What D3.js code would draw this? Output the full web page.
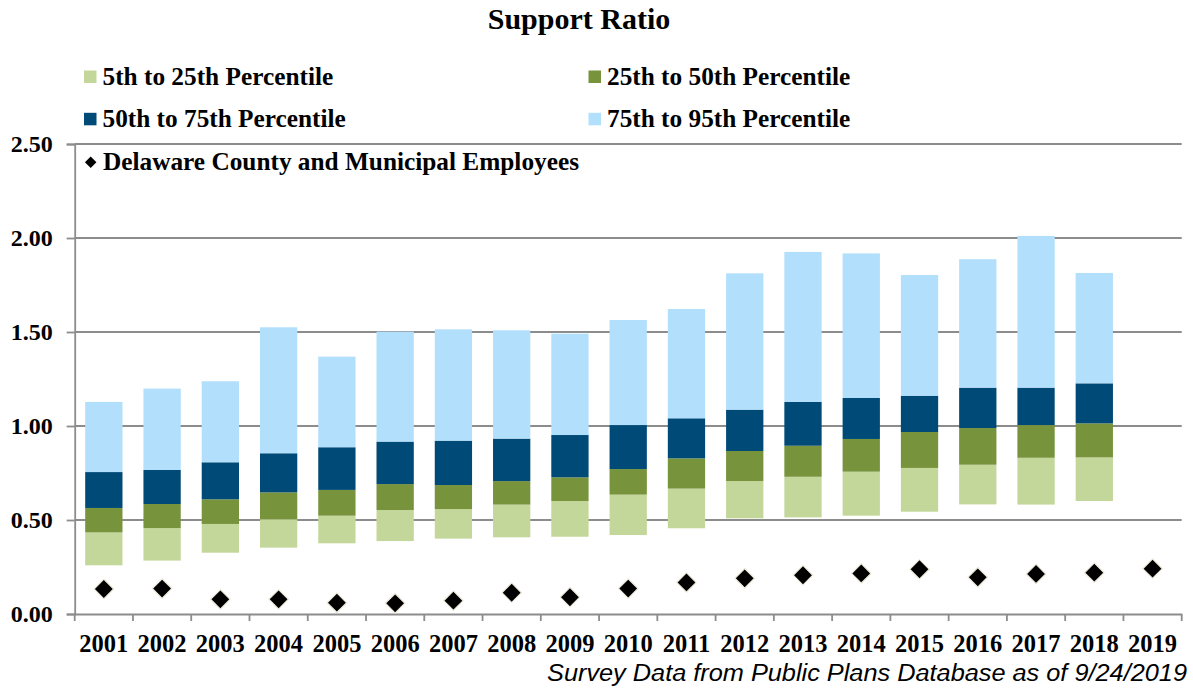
<!DOCTYPE html>
<html>
<head>
<meta charset="utf-8">
<script src="https://cdn.jsdelivr.net/npm/d3@7/dist/d3.min.js"></script>
<style>
  html, body { margin: 0; padding: 0; background: #fff; }
  svg { display: block; }
</style>
</head>
<body>
<svg id="chart" width="1193" height="692"></svg>
<script>
// ---- Data ----
const years = ["2001","2002","2003","2004","2005","2006","2007","2008","2009","2010",
               "2011","2012","2013","2014","2015","2016","2017","2018","2019"];
// percentile boundaries (null = no data)
const p5  = [0.259,0.284,0.326,0.353,0.376,0.388,0.401,0.408,0.411,0.420,0.456,0.509,0.514,0.523,0.544,0.583,0.582,0.601,null];
const p25 = [0.434,0.457,0.479,0.504,0.523,0.553,0.558,0.582,0.601,0.635,0.667,0.707,0.730,0.757,0.777,0.794,0.831,0.833,null];
const p50 = [0.564,0.585,0.610,0.647,0.660,0.691,0.686,0.707,0.727,0.771,0.828,0.867,0.895,0.931,0.968,0.989,1.005,1.014,null];
const p75 = [0.755,0.766,0.807,0.855,0.887,0.917,0.922,0.933,0.952,1.005,1.041,1.087,1.128,1.149,1.161,1.204,1.204,1.227,null];
const p95 = [1.128,1.199,1.238,1.525,1.369,1.502,1.514,1.509,1.491,1.564,1.622,1.812,1.926,1.918,1.803,1.887,2.011,1.814,null];
const delaware = [0.133,0.135,0.078,0.078,0.060,0.057,0.071,0.113,0.089,0.135,0.168,0.190,0.206,0.216,0.238,0.195,0.213,0.220,0.241];
const yTicks = [0, 0.5, 1.0, 1.5, 2.0, 2.5];
const seriesNames = ["5th to 25th Percentile","25th to 50th Percentile","50th to 75th Percentile","75th to 95th Percentile"];
const seriesColors = ["#c4d79b","#77933c","#004a77","#b1dffc"];
const markerName = "Delaware County and Municipal Employees";
const title = "Support Ratio";
const footnote = "Survey Data from Public Plans Database as of 9/24/2019";

// ---- Layout ----
const svg = d3.select("#chart");
const plotL = 74.7, plotR = 1181.7, plotT = 144, plotB = 614;
const serif = "'Liberation Serif','Times New Roman',serif";

const x = d3.scaleBand().domain(years).range([plotL, plotR]).paddingInner(0.36).paddingOuter(0.18);
const y = d3.scaleLinear().domain([0, 2.5]).range([plotB, plotT]);

// gridlines
svg.append("g").selectAll("line").data(yTicks.filter(d => d > 0)).join("line")
  .attr("x1", plotL).attr("x2", plotR)
  .attr("y1", d => y(d)).attr("y2", d => y(d))
  .attr("stroke", "#8c8c8c").attr("stroke-width", 1.8);

// bars (stacked segments between percentile boundaries)
const bounds = [p5, p25, p50, p75, p95];
const segs = [];
years.forEach((yr, i) => {
  for (let k = 0; k < 4; k++) {
    const lo = bounds[k][i], hi = bounds[k + 1][i];
    if (lo != null && hi != null) segs.push({yr, lo, hi, k});
  }
});
svg.append("g").selectAll("rect").data(segs).join("rect")
  .attr("x", d => x(d.yr))
  .attr("width", x.bandwidth())
  .attr("y", d => y(d.hi))
  .attr("height", d => y(d.lo) - y(d.hi))
  .attr("fill", d => seriesColors[d.k]);

// axes
const yAxis = d3.axisLeft(y).tickValues(yTicks).tickFormat(d3.format(".2f")).tickSize(8).tickPadding(14);
const gy = svg.append("g").attr("transform", `translate(${plotL},0)`).call(yAxis);
gy.select(".domain").attr("stroke", "#8c8c8c").attr("stroke-width", 1.8);
gy.selectAll(".tick line").attr("stroke", "#8c8c8c").attr("stroke-width", 1.8);
gy.selectAll(".tick text").attr("font-family", serif).attr("font-weight", "bold")
  .attr("font-size", "24px").attr("fill", "#000");

const xAxis = d3.axisBottom(x).tickSize(0).tickPadding(21);
const gx = svg.append("g").attr("transform", `translate(0,${plotB})`).call(xAxis);
gx.select(".domain").attr("stroke", "#8c8c8c").attr("stroke-width", 1.8);
gx.selectAll(".tick text").attr("font-family", serif).attr("font-weight", "bold")
  .attr("font-size", "24.5px").attr("fill", "#000");
// category boundary tick marks
const step = x.step();
svg.append("g").selectAll("line").data(d3.range(years.length + 1)).join("line")
  .attr("x1", i => plotL + i * step).attr("x2", i => plotL + i * step)
  .attr("y1", plotB).attr("y2", plotB + 7)
  .attr("stroke", "#8c8c8c").attr("stroke-width", 1.8);

// markers
const diamond = d3.symbol().type(d3.symbolSquare).size(190);
svg.append("g").selectAll("path").data(years.map((yr, i) => ({yr, v: delaware[i]}))).join("path")
  .attr("d", diamond)
  .attr("transform", d => `translate(${x(d.yr) + x.bandwidth() / 2},${y(d.v)}) rotate(45)`)
  .attr("fill", "#000").attr("stroke", "#eeeadb").attr("stroke-width", 1.2);

// title
svg.append("text").attr("x", 579).attr("y", 29).attr("text-anchor", "middle")
  .attr("font-family", serif).attr("font-weight", "bold").attr("font-size", "30px").text(title);

// legend
const legPos = [[84, 85], [588.5, 85], [84, 127.3], [588.5, 127.3]];
seriesNames.forEach((name, k) => {
  const [lx, ly] = legPos[k];
  svg.append("rect").attr("x", lx).attr("y", ly - 14.5).attr("width", 12.5).attr("height", 12.5).attr("fill", seriesColors[k]);
  svg.append("text").attr("x", lx + 18.5).attr("y", ly)
    .attr("font-family", serif).attr("font-weight", "bold").attr("font-size", "25.3px").text(name);
});
svg.append("path").attr("d", d3.symbol().type(d3.symbolSquare).size(66))
  .attr("transform", "translate(90.7,162.3) rotate(45)").attr("fill", "#000");
svg.append("text").attr("x", 103).attr("y", 169.5)
  .attr("font-family", serif).attr("font-weight", "bold").attr("font-size", "25.3px").text(markerName);

// footnote
svg.append("text").attr("x", 1187).attr("y", 681).attr("text-anchor", "end")
  .attr("font-family", "'Liberation Sans',Arial,sans-serif").attr("font-style", "italic")
  .attr("font-size", "24.5px").attr("textLength", 640).attr("lengthAdjust", "spacingAndGlyphs")
  .attr("fill", "#000").text(footnote);
</script>
</body>
</html>
